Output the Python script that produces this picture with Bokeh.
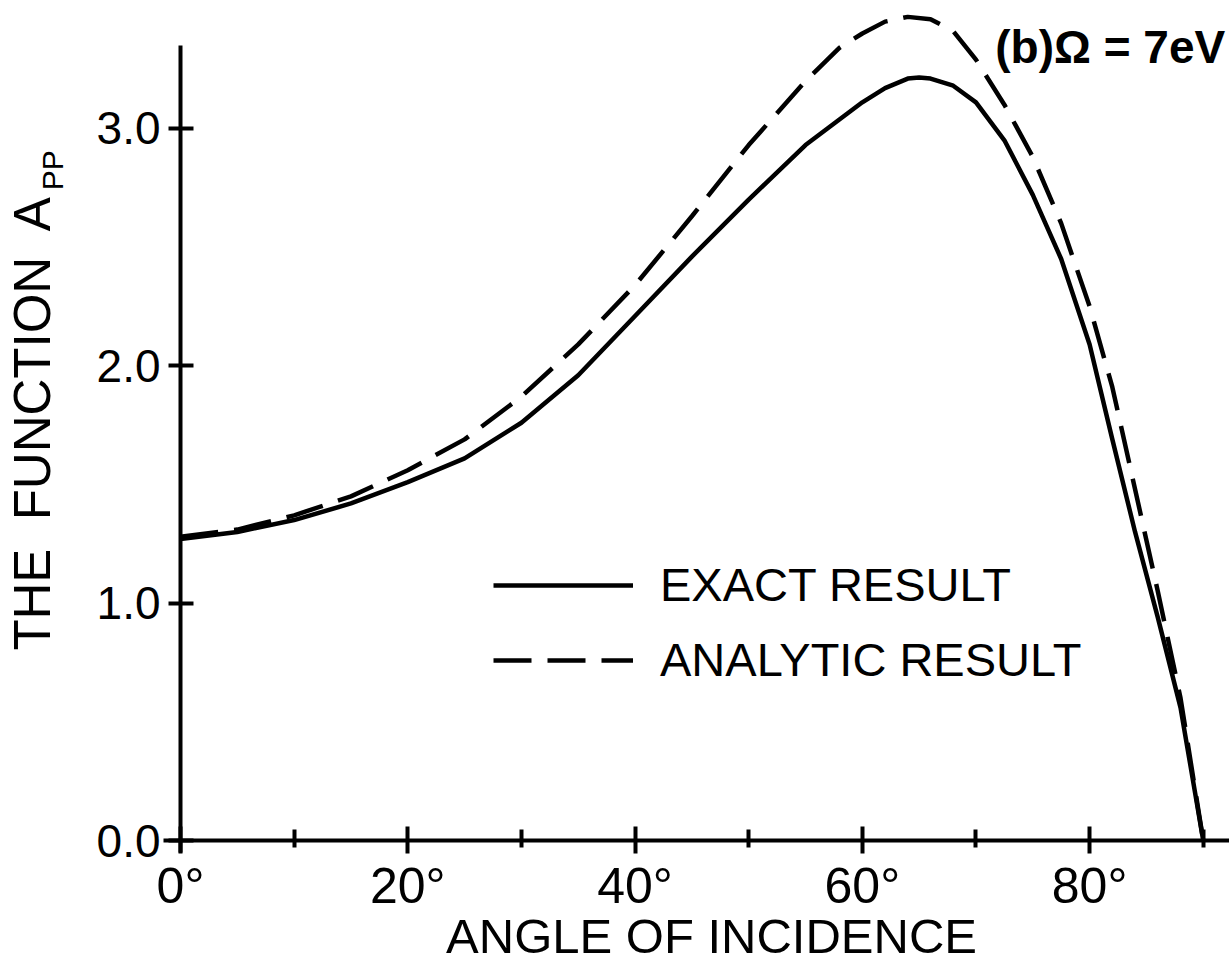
import math
from bokeh.plotting import figure
from bokeh.models import FixedTicker, Label, Legend, LegendItem, Range1d
from bokeh.embed import file_html
from bokeh.resources import INLINE

# ---- data ----
angle = [0, 5, 10, 15, 20, 25, 30, 35, 40, 45, 50, 55, 60, 62, 64, 65, 66, 68,
         70, 72.5, 75, 77.5, 80, 82, 84, 86, 88, 90]
exact = [1.27, 1.30, 1.35, 1.42, 1.51, 1.61, 1.76, 1.96, 2.21, 2.46, 2.70, 2.93,
         3.11, 3.17, 3.21, 3.215, 3.21, 3.18, 3.11, 2.95, 2.72, 2.45, 2.09, 1.69,
         1.30, 0.94, 0.56, 0.0]
angle_a = [0, 5, 10, 15, 20, 25, 30, 35, 40, 45, 50, 55, 58, 60, 62, 64, 66, 68,
           70, 72.5, 75, 77.5, 80, 82, 84, 86, 88, 90]
analytic = [1.28, 1.31, 1.37, 1.45, 1.56, 1.69, 1.87, 2.09, 2.34, 2.63, 2.93, 3.20,
            3.34, 3.40, 3.45, 3.47, 3.46, 3.41, 3.29, 3.10, 2.88, 2.60, 2.25, 1.91,
            1.48, 1.05, 0.60, 0.0]

x_major = [0, 20, 40, 60, 80]
x_minor = [10, 30, 50, 70, 90]
x_labels = ["0°", "20°", "40°", "60°", "80°"]
y_major = [0, 1, 2, 3]
y_labels = ["0.0", "1.0", "2.0", "3.0"]

series_names = ["EXACT RESULT", "ANALYTIC RESULT"]
y_title = "THE\u00a0 FUNCTION\u00a0 A"
y_title_sub = "PP"
x_title = "ANGLE OF INCIDENCE"
note = "(b)Ω = 7eV"

FONT = "Liberation Sans"

# the frame fills the whole canvas; axes are pinned through the origin
p = figure(width=1229, height=964, output_backend="svg", toolbar_location=None,
           x_range=Range1d(-15.84, 92.31), y_range=Range1d(-0.5224, 3.539),
           min_border=0)
p.min_border_left = 0
p.min_border_right = 0
p.min_border_top = 0
p.min_border_bottom = 0
p.outline_line_color = None
p.xgrid.visible = False
p.ygrid.visible = False
p.background_fill_color = "white"
p.border_fill_color = "white"

r1 = p.line(angle, exact, line_color="black", line_width=4.5)
r2 = p.line(angle_a, analytic, line_color="black", line_width=4.5, line_dash="38 16")

p.xaxis.fixed_location = 0
p.yaxis.fixed_location = 0

xa = p.xaxis[0]
xa.bounds = (-1.5, 92.31)
xa.ticker = FixedTicker(ticks=x_major, minor_ticks=x_minor)
xa.major_label_overrides = {t: l for t, l in zip(x_major, x_labels)}
xa.major_label_text_font = FONT
xa.major_label_text_font_size = "50px"
xa.major_label_text_color = "black"
xa.major_label_standoff = 4
xa.axis_line_width = 4
xa.axis_line_color = "black"
xa.major_tick_in = 14
xa.major_tick_out = 13
xa.minor_tick_in = 11
xa.minor_tick_out = 7
xa.major_tick_line_width = 4
xa.minor_tick_line_width = 4
xa.major_tick_line_color = "black"
xa.minor_tick_line_color = "black"

ya = p.yaxis[0]
ya.bounds = (-0.05, 3.35)
ya.ticker = FixedTicker(ticks=y_major, minor_ticks=[])
ya.major_label_overrides = {t: l for t, l in zip(y_major, y_labels)}
ya.major_label_text_font = FONT
ya.major_label_text_font_size = "46px"
ya.major_label_text_color = "black"
ya.major_label_standoff = 8
ya.axis_line_width = 4
ya.axis_line_color = "black"
ya.major_tick_in = 13
ya.major_tick_out = 12
ya.major_tick_line_width = 4
ya.major_tick_line_color = "black"
ya.minor_tick_line_color = None

# titles and note
p.add_layout(Label(x=-13.02, y=0.80, text=y_title, angle=math.pi / 2,
                   text_font=FONT, text_font_size="51px", text_color="black",
                   text_align="left", text_baseline="middle"))
p.add_layout(Label(x=-11.26, y=2.74, text=y_title_sub, angle=math.pi / 2,
                   text_font=FONT, text_font_size="30px", text_color="black",
                   text_align="left", text_baseline="middle"))
p.add_layout(Label(x=46.73, y=-0.404, text=x_title,
                   text_font=FONT, text_font_size="49px", text_color="black",
                   text_align="center", text_baseline="middle"))
p.add_layout(Label(x=71.7, y=3.341, text=note,
                   text_font=FONT, text_font_size="46px", text_font_style="bold",
                   text_color="black", text_align="left", text_baseline="middle"))

legend = Legend(items=[LegendItem(label=series_names[0], renderers=[r1]),
                       LegendItem(label=series_names[1], renderers=[r2])],
                location=(493, 277), glyph_width=140, glyph_height=20,
                label_text_font=FONT, label_text_font_size="47px",
                label_text_color="black", label_standoff=27, spacing=20,
                padding=0, margin=0, border_line_alpha=0, background_fill_alpha=0)
p.add_layout(legend)

open("out.html", "w").write(file_html(p, INLINE))
